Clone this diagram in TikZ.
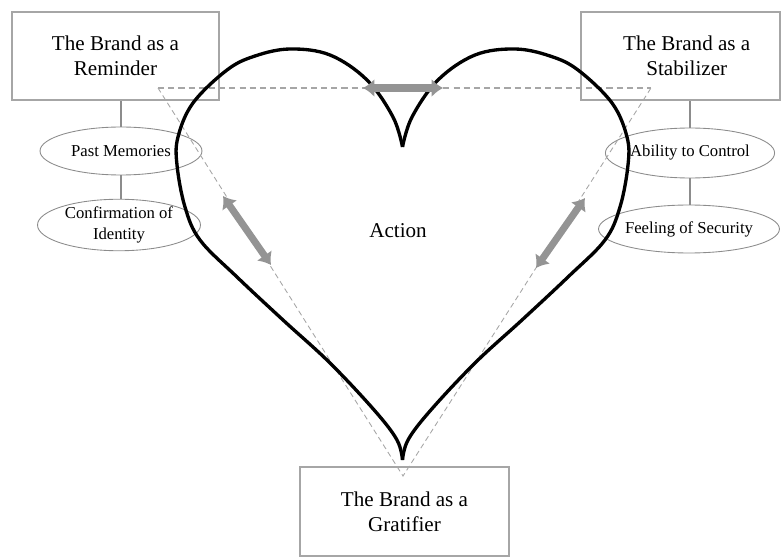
\documentclass[tikz,border=0pt]{standalone}
\usepackage{fontspec}
\setmainfont{Liberation Serif}
\usetikzlibrary{arrows.meta,shapes.geometric}

\begin{document}
\begin{tikzpicture}[x=0.02cm,y=-0.02cm,
		brandbox/.style={draw=black!35,line width=0.8pt,minimum height=1.76cm,align=center,font=\fontsize{12}{14}\selectfont},
		motive/.style={ellipse,draw=black!45,line width=0.5pt,inner sep=0pt,align=center,font=\fontsize{9.5}{12}\selectfont},
		stem/.style={draw=black!45,line width=1.1pt},
		heart/.style={line width=1.9pt,line join=round},
		trip/.style={black!35,dash pattern=on 3pt off 2pt,line width=0.5pt},
		push/.style={black!42,line width=4pt,{Latex[length=6.5pt,width=10.5pt]}-{Latex[length=6.5pt,width=10.5pt]}}]
				\useasboundingbox (0,0) rectangle (781,557);
				
				\node[brandbox,minimum width=4.14cm] (remind) at (115.5,56) {The Brand as a\\Reminder};
				\node[brandbox,minimum width=3.98cm] (stab) at (680.5,56) {\hspace*{0.25cm}The Brand as a\\\hspace*{0.25cm}Stabilizer};
				\node[brandbox,minimum width=4.18cm,minimum height=1.78cm] (grat) at (404.5,511.5) {The Brand as a\\Gratifier};
				
				\node[motive,minimum width=3.24cm,minimum height=0.96cm] (past) at (121,151) {Past Memories};
				\node[motive,minimum width=3.26cm,minimum height=1cm] (ident) at (119,225) {Confirmation of\\Identity};
				\node[motive,minimum width=3.22cm,minimum height=1cm] (ctrl) at (690,153) {Ability to Control};
				\node[motive,minimum width=3.24cm,minimum height=0.96cm] (secur) at (689,229) {Feeling of Security};
				
				\draw[stem] (past.north) -- (past.north |- remind.south);
				\draw[stem] (past.south) -- (past.south |- ident.north);
				\draw[stem] (ctrl.north) -- (ctrl.north |- stab.south);
				\draw[stem] (ctrl.south) -- (ctrl.south |- secur.north);
				
				\node[font=\fontsize{12}{14}\selectfont] (action) at (398,231) {Action};
				
				\coordinate (tl) at (158,88);
				\coordinate (tr) at (651,88);
				\coordinate (bt) at (403,476);
				\draw[black!35,dash pattern=on 3.5pt off 2.3pt,line width=1.1pt] (tl) -- (tr);
				\draw[trip] (tl) -- (bt) -- (tr);
				
				\foreach \s/\o in {1/0,-1/805}
					\draw[heart,shift={(\o,0)},xscale=\s] plot[smooth,tension=0.6] coordinates {(402.5,147) (393,117) (367,80) (330,55) (290,49) (255,56) (227,70) (193,103) (178,137) (177,165) (185,207) (200,240) (237,277) (283,320) (330,363) (375,411) (397,440) (402.5,460)};
				
				\coordinate (a1) at (363,88);
				\coordinate (a2) at (443,88);
				\coordinate (b1) at (223,196);
				\coordinate (b2) at (271,265);
				\coordinate (c1) at (585,198);
				\coordinate (c2) at (536,268);
				\draw[push] (a1) -- (a2);
				\draw[push] (b1) -- (b2);
				\draw[push] (c1) -- (c2);
			\end{tikzpicture}
\end{document}
